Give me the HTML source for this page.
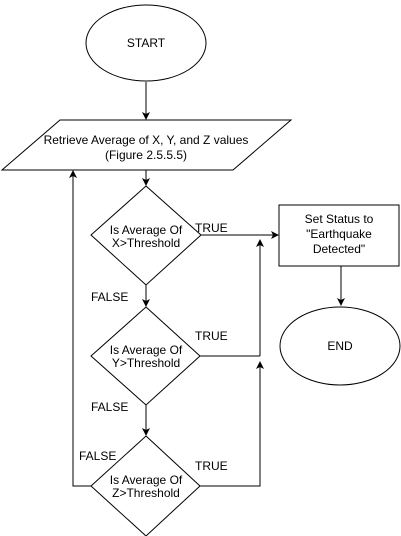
<!DOCTYPE html>
<html><head><style>body{margin:0;background:#fff}svg{display:block}text{font-family:"Liberation Sans",sans-serif;font-size:12px;fill:#000}</style></head><body>
<svg width="401" height="536" viewBox="0 0 401 536">
<defs><marker id="a" markerWidth="8" markerHeight="8" refX="7" refY="4" orient="auto" markerUnits="userSpaceOnUse"><path d="M0,0L8,4L0,8L2,4z" fill="#000"/></marker></defs>
<g fill="#fff" stroke="#000" stroke-width="1">
<ellipse cx="146" cy="43" rx="60" ry="38"/>
<polygon points="60,120 291,120 233,170 2,170"/>
<polygon points="146,186 201,235 146,285 91,235"/>
<polygon points="146,307 200,356 146,405 91,356"/>
<polygon points="146,436 200,486 146,536 91,486"/>
<rect x="279" y="205" width="120" height="61"/>
<ellipse cx="340" cy="346" rx="60" ry="39"/>
</g>
<g fill="none" stroke="#000" stroke-width="1">
<line x1="146" y1="82" x2="146" y2="119" marker-end="url(#a)"/>
<line x1="146" y1="170" x2="146" y2="185" marker-end="url(#a)"/>
<line x1="146" y1="285" x2="146" y2="306" marker-end="url(#a)"/>
<line x1="146" y1="405" x2="146" y2="435" marker-end="url(#a)"/>
<line x1="201" y1="235" x2="278" y2="235" marker-end="url(#a)"/>
<line x1="341" y1="266" x2="341" y2="305" marker-end="url(#a)"/>
<line x1="200" y1="356" x2="260" y2="356"/>
<polyline points="200,486 260,486 260,362" marker-end="url(#a)"/>
<line x1="260" y1="356" x2="260" y2="240" marker-end="url(#a)"/>
<polyline points="91,486 73,486 73,171" marker-end="url(#a)"/>
</g>
<g text-anchor="middle">
<text x="146" y="144">Retrieve Average of X, Y, and Z values</text>
<text x="146" y="159">(Figure 2.5.5.5)</text>
<text x="146" y="47">START</text>
<text x="146" y="234">Is Average Of</text>
<text x="146" y="247">X&gt;Threshold</text>
<text x="146" y="354">Is Average Of</text>
<text x="146" y="367">Y&gt;Threshold</text>
<text x="146" y="484">Is Average Of</text>
<text x="146" y="497">Z&gt;Threshold</text>
<text x="339" y="223">Set Status to</text>
<text x="339" y="238">"Earthquake</text>
<text x="339" y="253">Detected"</text>
<text x="340" y="350">END</text>
</g>
<text x="195" y="232">TRUE</text>
<text x="195" y="340">TRUE</text>
<text x="195" y="470">TRUE</text>
<text x="91" y="301">FALSE</text>
<text x="91" y="411">FALSE</text>
<text x="79" y="460">FALSE</text>
</svg>
</body></html>
